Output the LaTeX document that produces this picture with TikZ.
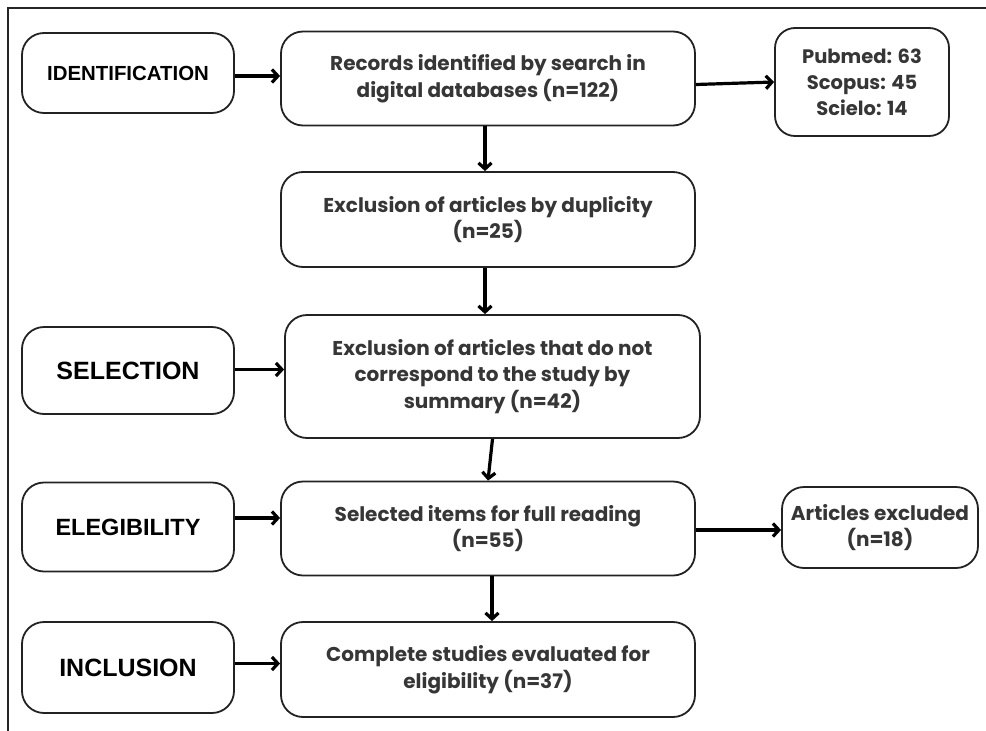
\documentclass[tikz,border=0pt]{standalone}
\usepackage{fontspec}
\setmainfont{Poppins}
\newfontfamily\labelfont{Liberation Sans}
\usetikzlibrary{arrows.meta,calc}
\definecolor{txt}{HTML}{363636}
\definecolor{edge}{HTML}{222222}
\tikzset{
  box/.style={draw=edge, line width=1.8pt, rounded corners=22pt, align=center,
    text=txt, font=\fontsize{20}{26.5}\selectfont\bfseries, inner sep=0pt},
  stage/.style={draw=edge, line width=1.8pt, rounded corners=22pt, align=center,
    text=black, minimum width=212pt, inner sep=0pt},
  conn/.style={draw=black, line width=3.2pt, -{Straight Barb[length=6pt,width=13pt]}},
}
\begin{document}
\begin{tikzpicture}[x=1pt,y=-1pt]
\useasboundingbox (0,0) rectangle (986,731);
\draw[line width=1.3pt, draw=black!85] (8,731) -- (8,8) -- (986,8);
% stage labels
\node[stage, minimum height=80pt, font=\labelfont\fontsize{20.4}{22}\selectfont\bfseries] (ident) at (128,73) {IDENTIFICATION};
\node[stage, minimum height=87pt, font=\labelfont\fontsize{25}{26}\selectfont\bfseries] (sel) at (128,370.5) {SELECTION};
\node[stage, minimum height=89pt, font=\labelfont\fontsize{23.5}{26}\selectfont\bfseries] (eleg) at (128,527) {ELEGIBILITY};
\node[stage, minimum height=91pt, font=\labelfont\fontsize{25}{26}\selectfont\bfseries] (incl) at (128,667.5) {INCLUSION};
% main boxes
\node[box, minimum width=414pt, minimum height=94pt] (rec) at (488,78.5) {Records identified by search in\\digital databases (n=122)};
\node[box, minimum width=174pt, minimum height=108pt, rounded corners=20pt, font=\fontsize{19.5}{26}\selectfont\bfseries] (pub) at (862,82) {Pubmed: 63\\Scopus: 45\\Scielo: 14};
\node[box, minimum width=414pt, minimum height=95pt] (dup) at (488,219.5) {Exclusion of articles by duplicity\\(n=25)};
\node[box, minimum width=415pt, minimum height=123pt] (summ) at (492.5,376.5) {Exclusion of articles that do not\\correspond to the study by\\summary (n=42)};
\node[box, minimum width=414pt, minimum height=94pt] (items) at (488,528.5) {Selected items for full reading\\(n=55)};
\node[box, minimum width=196pt, minimum height=81pt] (excl) at (880,527.5) {Articles excluded\\(n=18)};
\node[box, minimum width=414pt, minimum height=95pt] (comp) at (488,669.5) {Complete studies evaluated for\\eligibility (n=37)};
% connectors
\coordinate (a1) at ($(ident.east)+(0,3)$);
\draw[conn] (a1) -- (a1 -| rec.west);
\coordinate (a2) at ($(rec.east)+(0,6)$);
\coordinate (a3) at ($(pub.west)+(0,0)$);
\draw[conn] (a2) -- (a3);
\coordinate (v1) at ($(rec.south)+(-3,0)$);
\draw[conn] (v1) -- (v1 |- dup.north);
\coordinate (v2) at ($(dup.south)+(-3,0)$);
\draw[conn] (v2) -- (v2 |- summ.north);
\coordinate (v3) at ($(summ.south)+(0,0)$);
\coordinate (v3e) at ($(items.north)+(0,0)$);
\draw[conn] (v3) -- (v3e);
\coordinate (v4) at ($(items.south)+(4,0)$);
\draw[conn] (v4) -- (v4 |- comp.north);
\coordinate (a4) at ($(sel.east)+(0,-1)$);
\draw[conn] (a4) -- (a4 -| summ.west);
\coordinate (a5) at ($(eleg.east)+(0,-9)$);
\draw[conn] (a5) -- (a5 -| items.west);
\coordinate (a6) at ($(items.east)+(0,1.5)$);
\draw[conn] (a6) -- (a6 -| excl.west);
\coordinate (a7) at ($(incl.east)+(0,-4)$);
\draw[conn] (a7) -- (a7 -| comp.west);
\end{tikzpicture}
\end{document}
